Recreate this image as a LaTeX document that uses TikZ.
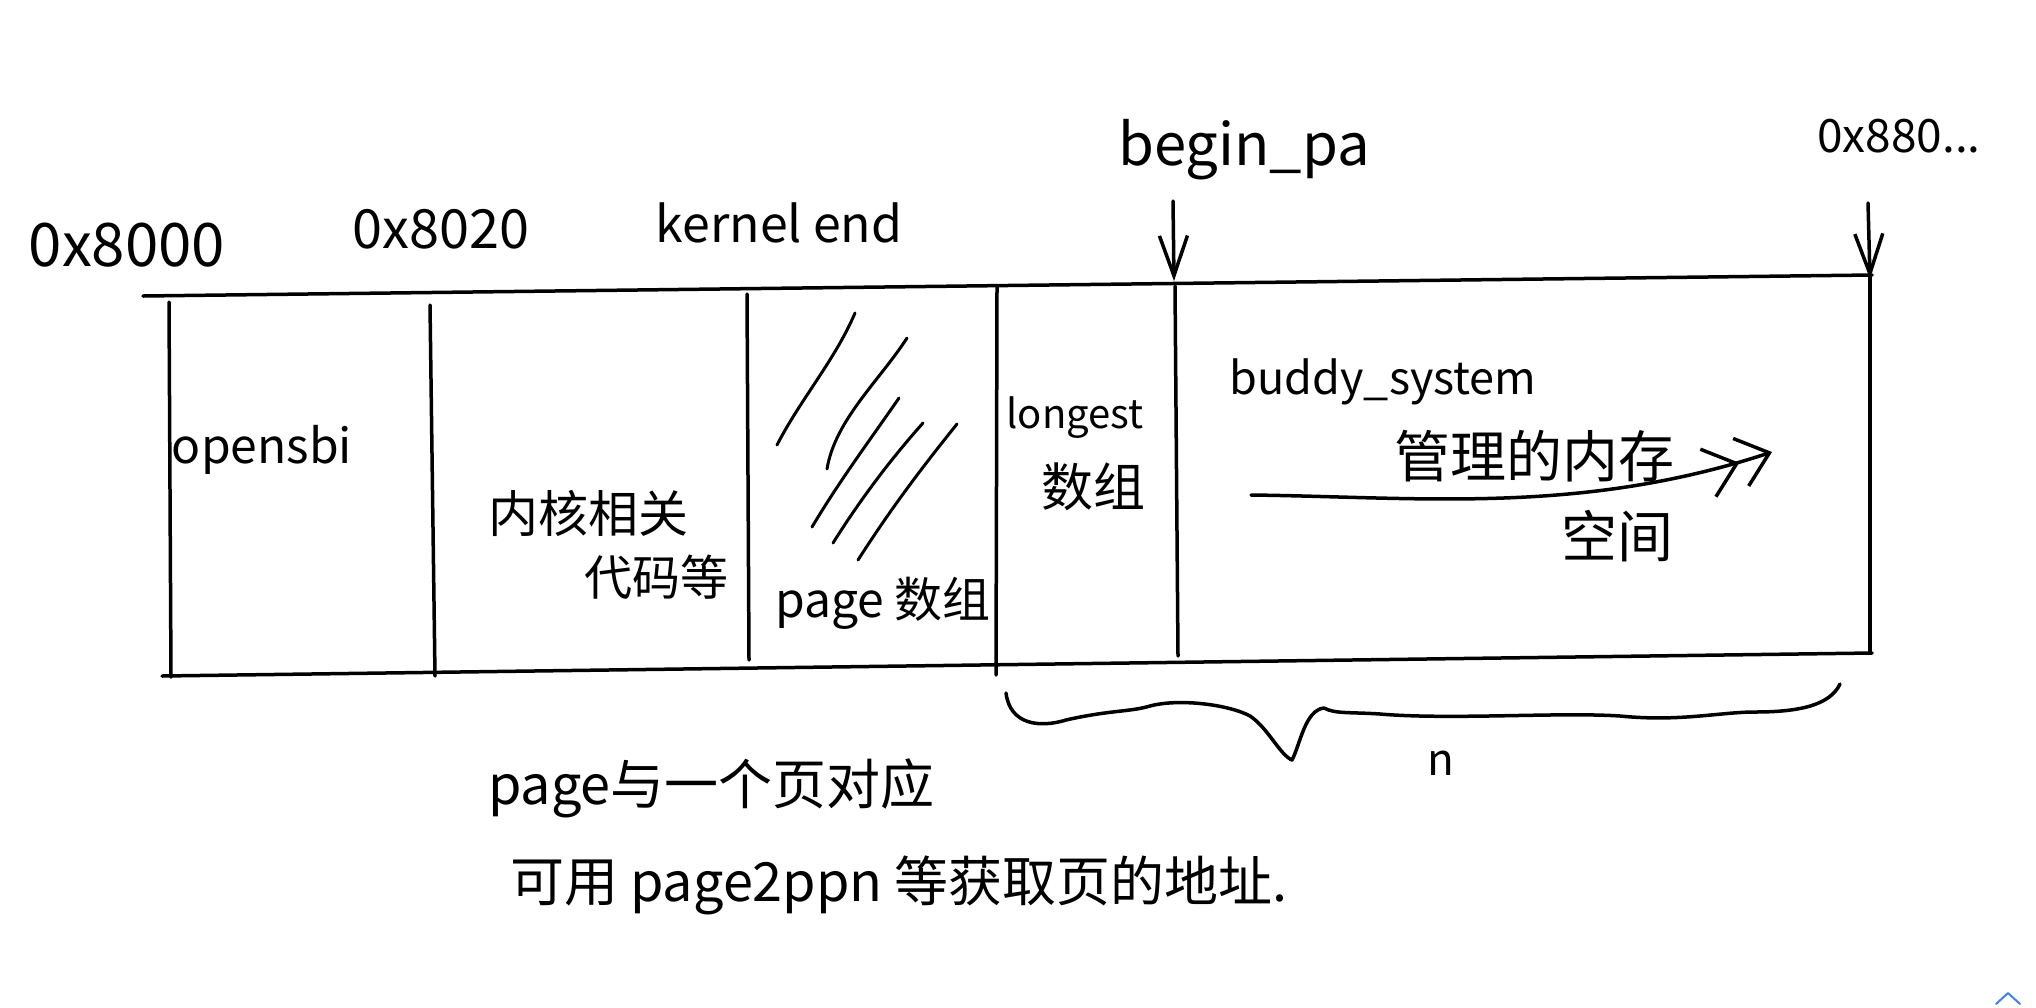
\documentclass[tikz,border=0pt]{standalone}
\usepackage{fontspec}
\setmainfont{Noto Sans CJK SC}
\usetikzlibrary{arrows.meta}
\definecolor{uiblue}{RGB}{70,130,220}
\tikzset{
  ink/.style={line width=3.5pt, line cap=round, line join=round},
  hatch/.style={line width=3pt, line cap=round},
  lbl/.style={inner sep=0pt, anchor=center},
  downarrow/.style={ink, -{Straight Barb[length=40pt,width=28pt,line width=3.5pt]}},
  dblarrow/.style={line width=3.5pt, line cap=round,
    -{Straight Barb[length=30pt,width=50pt,line width=3.5pt] Straight Barb[length=30pt,width=50pt,line width=3.5pt]}},
}
\begin{document}
\begin{tikzpicture}[x=1pt,y=-1pt]
\useasboundingbox (0,0) rectangle (2036,1007);
\fill[white] (0,0) rectangle (2036,1007);

% outer box lines
\coordinate (TL) at (143,296);
\coordinate (TR) at (1872,275);
\coordinate (BL) at (162,676);
\coordinate (BR) at (1872,653);
\draw[ink] (TL) -- (TR);
\draw[ink] (BL) -- (BR);

% vertical separators
\coordinate (v1t) at (169,302); \coordinate (v1b) at (171,677);
\coordinate (v2t) at (430,305); \coordinate (v2b) at (435,676);
\coordinate (v3t) at (747,294); \coordinate (v3b) at (749,660);
\coordinate (v4t) at (997,287); \coordinate (v4b) at (996,675);
\coordinate (v5t) at (1175,286); \coordinate (v5b) at (1178,656);
\coordinate (v6t) at (1870,275); \coordinate (v6b) at (1870,653);
\draw[ink] (v1t) -- (v1b);
\draw[ink] (v2t) -- (v2b);
\draw[ink] (v3t) -- (v3b);
\draw[ink] (v4t) -- (v4b);
\draw[ink] (v5t) -- (v5b);
\draw[ink] (v6t) -- (v6b);

% hatch lines in the page array region
\draw[hatch] (777,445) .. controls (800,400) and (835,360) .. (855,313);
\draw[hatch] (827,469) .. controls (835,420) and (880,380) .. (907,338);
\draw[hatch] (812,527) .. controls (840,480) and (870,440) .. (899,398);
\draw[hatch] (833,543) .. controls (860,500) and (890,460) .. (923,423);
\draw[hatch] (858,560) .. controls (890,510) and (920,470) .. (957,424);

% address labels
\node[lbl, font=\fontsize{60}{60}\selectfont] (a8000) at (127,245) {0x8000};
\node[lbl, font=\fontsize{54}{54}\selectfont] (a8020) at (441,229) {0x8020};
\node[lbl, font=\fontsize{50}{50}\selectfont] (kend) at (779,223) {kernel end};
\node[lbl, font=\fontsize{58}{58}\selectfont] (bpa) at (1244,150) {begin\_pa};
\node[lbl, font=\fontsize{46}{46}\selectfont] (a880) at (1899,136) {0x880...};

% arrows onto the top line
\coordinate (bpaTail) at (1173,201);
\coordinate (bpaHead) at (1174,281);
\coordinate (endTail) at (1868,203);
\coordinate (endHead) at (1870,279);
\draw[downarrow] (bpaTail) -- (bpaHead);
\draw[downarrow] (endTail) -- (endHead);

% region labels
\node[lbl, font=\fontsize{48}{48}\selectfont] (osbi) at (262,450) {opensbi};
\node[lbl, font=\fontsize{50}{50}\selectfont] (kern1) at (588,513) {内核相关};
\node[lbl, font=\fontsize{48}{48}\selectfont] (kern2) at (656,577) {代码等};
\node[lbl, font=\fontsize{48}{48}\selectfont] (parr) at (883,603) {page 数组};
\node[lbl, font=\fontsize{40}{40}\selectfont] (lng1) at (1075,418) {longest};
\node[lbl, font=\fontsize{52}{52}\selectfont] (lng2) at (1093,487) {数组};
\node[lbl, font=\fontsize{45}{45}\selectfont] (bud1) at (1383,382) {buddy\_system};
\node[lbl, font=\fontsize{56}{56}\selectfont] (bud2) at (1534,456) {管理的内存};
\node[lbl, font=\fontsize{56}{56}\selectfont] (bud3) at (1617,536) {空间};

% long arrow in the buddy region
\coordinate (budTail) at (1251,495);
\coordinate (budHead) at (1772,452);
\draw[dblarrow] (budTail) .. controls (1420,497) and (1580,515) .. (budHead);

% brace under the longest + buddy regions
\coordinate (brL) at (1006,693);
\coordinate (brTip) at (1292,760);
\coordinate (brR) at (1840,684);
\draw[ink] (brL) .. controls (1010,725) and (1040,728) .. (1066,720)
  .. controls (1110,710) and (1130,712) .. (1150,706)
  .. controls (1180,698) and (1230,705) .. (1250,716)
  .. controls (1268,728) and (1280,755) .. (brTip)
  .. controls (1300,745) and (1305,710) .. (1324,708)
  .. controls (1335,714) and (1350,712) .. (1380,714)
  .. controls (1450,720) and (1560,712) .. (1620,716)
  .. controls (1680,722) and (1720,712) .. (1755,712)
  .. controls (1800,712) and (1830,705) .. (brR);
\node[lbl, font=\fontsize{44}{44}\selectfont] (nlbl) at (1441,763) {n};

% notes
\node[inner sep=0pt, anchor=west, font=\fontsize{54}{54}\selectfont] (note1) at (488,788) {page与一个页对应};
\node[inner sep=0pt, anchor=west, font=\fontsize{54}{54}\selectfont] (note2) at (510,885) {可用 page2ppn 等获取页的地址.};

% small UI caret, bottom right
\coordinate (c1) at (1996,1004);
\coordinate (c2) at (2008,993);
\coordinate (c3) at (2020,1004);
\draw[uiblue, line width=2pt, line cap=round, line join=round] (c1) -- (c2) -- (c3);
\end{tikzpicture}
\end{document}
